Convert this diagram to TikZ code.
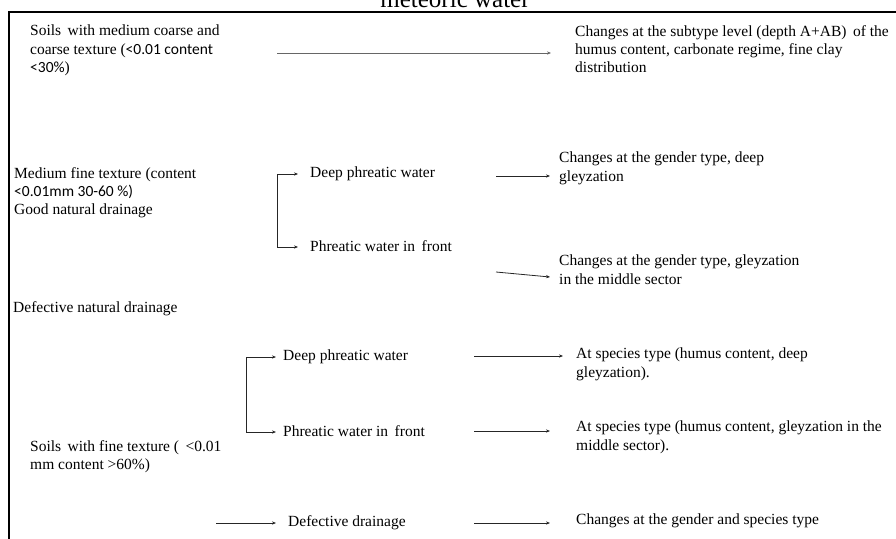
\documentclass[tikz,border=0pt]{standalone}
\usepackage{fontspec}
\setmainfont{Liberation Serif}
\newfontfamily\calfont{Carlito}
\usetikzlibrary{arrows.meta}
\begin{document}
\begin{tikzpicture}[x=1pt,y=-1pt,
  txt/.style={anchor=north west,inner sep=0pt,align=left,font=\fontsize{15.5}{18.2}\selectfont},
  arr/.style={draw=black!85,line width=0.8pt,-{Stealth[length=4pt,width=3.2pt]}},
  garr/.style={draw=black!60,line width=1pt,-{Stealth[length=4pt,width=3.2pt]}},
  ln/.style={draw=black!85,line width=0.8pt}]
\useasboundingbox (0,0) rectangle (896,538);
% title (cropped by page edge)
\node[anchor=base,inner sep=0pt,font=\fontsize{25}{28}\selectfont] (title) at (455,7) {meteoric water};
% frame
\draw[line width=2.2pt] (8,12) -- (900,12);
\draw[line width=2.4pt] (9,11) -- (9,545);
% top row
\node[txt] (a) at (30,25) {Soils \,with medium coarse and\\coarse texture ({\calfont <0.01 content}\\{\calfont <30\%})};
\node[txt] (b) at (575,25) {Changes at the subtype level (depth A+AB) \,of the\\humus content, carbonate regime, fine clay\\distribution};
\coordinate (a1) at (277,53);
\coordinate (b1) at (551,53);
\draw[garr] (a1) -- (b1);
% middle block
\node[txt] (c) at (14,167) {Medium fine texture (content\\{\calfont <0.01mm 30-60 \%)}\\Good natural drainage};
\node[txt] (d1) at (310,167) {Deep phreatic water};
\node[txt] (p1) at (310,240) {Phreatic water in \,front};
\coordinate (k1) at (277,174);
\coordinate (k1b) at (277,247);
\coordinate (k1d) at (298,174);
\coordinate (k1p) at (298,247);
\draw[ln] (k1) -- (k1b);
\draw[arr] (k1) -- (k1d);
\draw[arr] (k1b) -- (k1p);
\node[txt] (e1) at (559,152) {Changes at the gender type, deep\\gleyzation};
\node[txt] (e2) at (559,255) {Changes at the gender type, gleyzation\\in the middle sector};
\coordinate (s1) at (496,176);
\coordinate (t1) at (550,176);
\draw[arr] (s1) -- (t1);
\coordinate (s2) at (496,272);
\coordinate (t2) at (550,277);
\draw[arr] (s2) -- (t2);
\node[txt] (f) at (13,301) {Defective natural drainage};
% bottom block
\node[txt] (d2) at (283,350) {Deep phreatic water};
\node[txt] (p2) at (283,425) {Phreatic water in \,front};
\coordinate (k2) at (246,357);
\coordinate (k2b) at (246,432);
\coordinate (k2d) at (276,357);
\coordinate (k2p) at (276,432);
\draw[ln] (k2) -- (k2b);
\draw[arr] (k2) -- (k2d);
\draw[arr] (k2b) -- (k2p);
\node[txt] (g) at (30,440) {Soils \,with fine texture ( \,<0.01\\mm content >60\%)};
\node[txt] (h) at (288,515) {Defective drainage};
\coordinate (h0) at (216,523);
\coordinate (h1) at (276,523);
\draw[arr] (h0) -- (h1);
\node[txt] (r1) at (576,348) {At species type (humus content, deep\\gleyzation).};
\node[txt] (r2) at (576,421) {At species type (humus content, gleyzation in the\\middle sector).};
\node[txt] (r3) at (576,514) {Changes at the gender and species type};
\coordinate (u1) at (474,356);
\coordinate (v1) at (563,356);
\draw[arr] (u1) -- (v1);
\coordinate (u2) at (474,431);
\coordinate (v2) at (550,431);
\draw[arr] (u2) -- (v2);
\coordinate (u3) at (474,523);
\coordinate (v3) at (550,523);
\draw[arr] (u3) -- (v3);
\end{tikzpicture}
\end{document}
